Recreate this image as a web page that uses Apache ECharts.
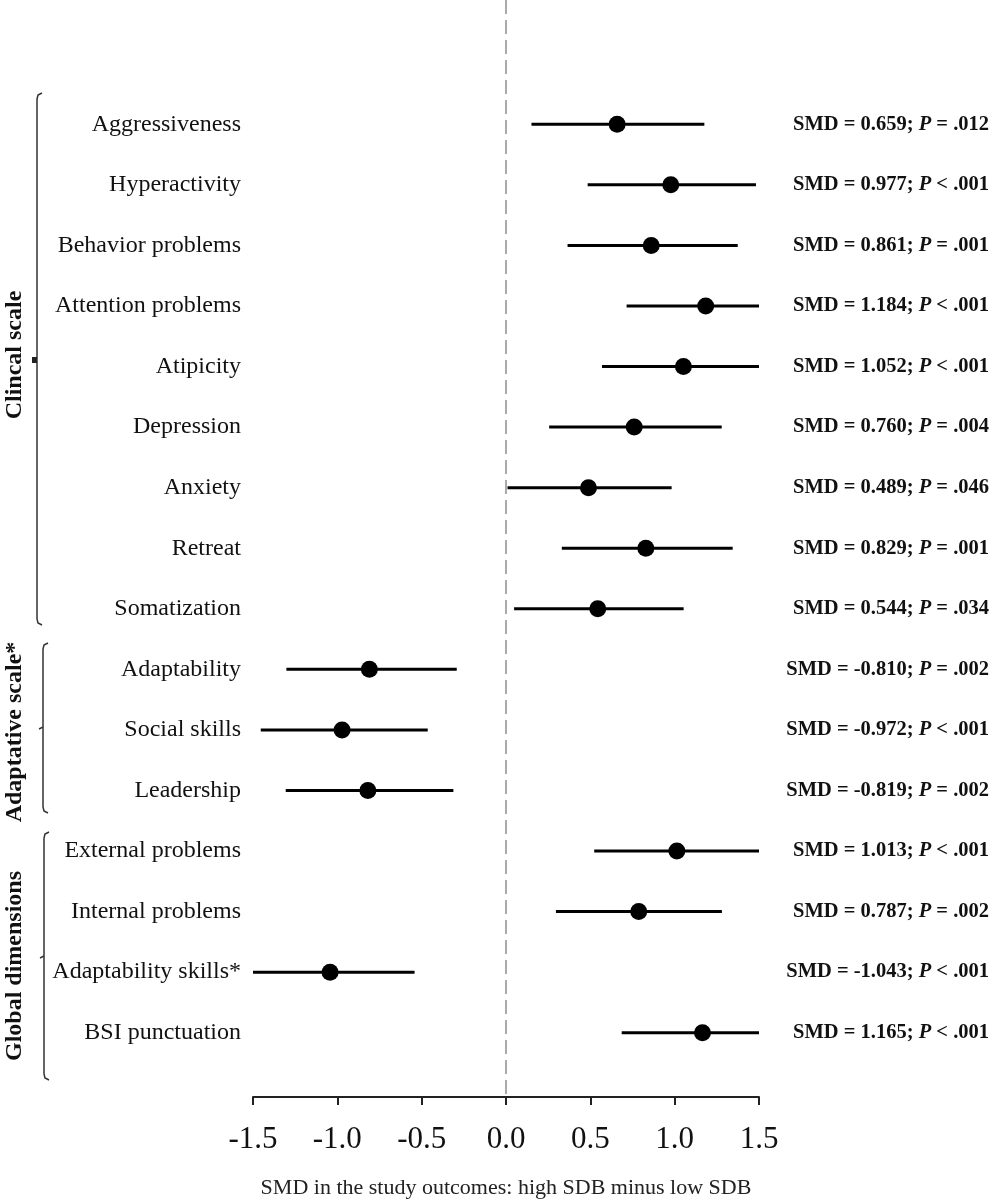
<!DOCTYPE html>
<html>
  <head>
    <meta charset="utf-8" />
    <title>SMD forest plot</title>
    <script src="https://cdn.jsdelivr.net/npm/echarts@6/dist/echarts.min.js"></script>
  </head>
  <body style="margin:0;background:#fff;">
    <div id="main" style="width: 993px;height:1200px;"></div>
    <script type="text/javascript">
// outcomes, top to bottom
var outcomes = ['Aggressiveness', 'Hyperactivity', 'Behavior problems', 'Attention problems',
  'Atipicity', 'Depression', 'Anxiety', 'Retreat', 'Somatization',
  'Adaptability', 'Social skills', 'Leadership',
  'External problems', 'Internal problems', 'Adaptability skills*', 'BSI punctuation'];
// point estimates (SMD)
var smd = [0.659, 0.977, 0.861, 1.184, 1.052, 0.760, 0.489, 0.829, 0.544,
  -0.810, -0.972, -0.819, 1.013, 0.787, -1.043, 1.165];
// 95% CI (cut at the axis limits)
var ciLow = [0.151, 0.484, 0.365, 0.715, 0.569, 0.256, 0.009, 0.331, 0.048,
  -1.302, -1.454, -1.306, 0.523, 0.296, -1.5, 0.686];
var ciHigh = [1.176, 1.482, 1.374, 1.5, 1.5, 1.279, 0.982, 1.344, 1.053,
  -0.292, -0.464, -0.312, 1.5, 1.280, -0.542, 1.5];
var pText = ['= .012', '< .001', '= .001', '< .001', '< .001', '= .004', '= .046', '= .001', '= .034',
  '= .002', '< .001', '= .002', '< .001', '= .002', '< .001', '< .001'];
var xTickLabels = ['-1.5', '-1.0', '-0.5', '0.0', '0.5', '1.0', '1.5'];
var refValue = 0;

var serif = '"Liberation Serif", "Times New Roman", serif';
var myChart = echarts.init(document.getElementById('main'));

var ciData = outcomes.map(function (name, i) { return [ciLow[i], ciHigh[i], i]; });
var dotData = outcomes.map(function (name, i) { return [smd[i], i]; });

myChart.setOption({
  backgroundColor: '#fff',
  animation: false,
  grid: { left: 253, right: 234, top: 94, bottom: 137, outerBoundsMode: 'none', containLabel: false },
  xAxis: {
    type: 'value',
    min: -1.5,
    max: 1.5,
    interval: 0.5,
    offset: 34,
    splitLine: { show: false },
    axisLine: { show: true, lineStyle: { color: '#222', width: 2 } },
    axisTick: { show: true, length: 8, lineStyle: { color: '#222', width: 2 } },
    axisLabel: {
      fontSize: 31, fontFamily: serif, color: '#111', margin: 27,
      formatter: function (v) { return xTickLabels[Math.round((v + 1.5) / 0.5)]; }
    },
    name: 'SMD in the study outcomes: high SDB minus low SDB',
    nameLocation: 'middle',
    nameGap: 80,
    nameTextStyle: { fontSize: 22, fontFamily: serif, color: '#222' }
  },
  yAxis: [
    {
      type: 'category',
      inverse: true,
      data: outcomes,
      axisLine: { show: false },
      axisTick: { show: false },
      axisLabel: { fontSize: 24, fontFamily: serif, color: '#111', margin: 12 }
    },
    {
      type: 'category',
      inverse: true,
      position: 'right',
      data: outcomes,
      axisLine: { show: false },
      axisTick: { show: false },
      axisLabel: {
        align: 'right',
        margin: 230,
        formatter: function (v, i) {
          return '{b|SMD = ' + smd[i].toFixed(3) + '; }{i|P}{b| ' + pText[i] + '}';
        },
        rich: {
          b: { fontSize: 20.5, fontWeight: 'bold', fontFamily: serif, color: '#111' },
          i: { fontSize: 20.5, fontWeight: 'bold', fontStyle: 'italic', fontFamily: serif, color: '#111' }
        }
      }
    }
  ],
  series: [
    {
      // dashed reference line at SMD = 0
      type: 'custom',
      data: [[refValue, 0]],
      clip: false,
      silent: true,
      z: 1,
      renderItem: function (params, api) {
        var x = api.coord([api.value(0), 0])[0];
        var cs = params.coordSys;
        return {
          type: 'line',
          shape: { x1: x, y1: 0, x2: x, y2: cs.y + cs.height + 33 },
          style: { stroke: '#aaa', lineWidth: 2, lineDash: [14, 6] }
        };
      }
    },
    {
      type: 'custom',
      data: ciData,
      encode: { x: [0, 1], y: 2 },
      z: 2,
      renderItem: function (params, api) {
        var p1 = api.coord([api.value(0), api.value(2)]);
        var p2 = api.coord([api.value(1), api.value(2)]);
        return {
          type: 'line',
          shape: { x1: p1[0], y1: p1[1], x2: p2[0], y2: p2[1] },
          style: { stroke: '#000', lineWidth: 3 }
        };
      }
    },
    {
      type: 'scatter',
      data: dotData,
      symbol: 'circle',
      symbolSize: 17,
      itemStyle: { color: '#000', opacity: 1 },
      z: 3
    }
  ],
  graphic: [
    // group brackets
    { type: 'polyline', shape: { points: [[42, 93], [38, 95], [37, 99], [37, 619], [38, 623], [42, 625]] }, style: { stroke: '#333', lineWidth: 1.5, fill: null } },
    { type: 'rect', shape: { x: 32, y: 357, width: 5, height: 6 }, style: { fill: '#222' } },
    { type: 'polyline', shape: { points: [[48, 643], [44, 645], [43, 649], [43, 807], [44, 811], [48, 813]] }, style: { stroke: '#333', lineWidth: 1.5, fill: null } },
    { type: 'polyline', shape: { points: [[43, 727], [39, 729]] }, style: { stroke: '#333', lineWidth: 1.5, fill: null } },
    { type: 'polyline', shape: { points: [[49, 832], [45, 834], [44, 838], [44, 1074], [45, 1078], [49, 1080]] }, style: { stroke: '#333', lineWidth: 1.5, fill: null } },
    { type: 'polyline', shape: { points: [[44, 956], [40, 958]] }, style: { stroke: '#333', lineWidth: 1.5, fill: null } },
    // group names
    { type: 'text', x: 15, y: 355, rotation: Math.PI / 2, style: { text: 'Clincal scale', font: 'bold 24px ' + serif, fill: '#111', align: 'center', verticalAlign: 'middle' } },
    { type: 'text', x: 15, y: 732, rotation: Math.PI / 2, style: { text: 'Adaptative scale*', font: 'bold 24px ' + serif, fill: '#111', align: 'center', verticalAlign: 'middle' } },
    { type: 'text', x: 15, y: 966, rotation: Math.PI / 2, style: { text: 'Global dimensions', font: 'bold 24px ' + serif, fill: '#111', align: 'center', verticalAlign: 'middle' } }
  ]
});
    </script>
  </body>
</html>
